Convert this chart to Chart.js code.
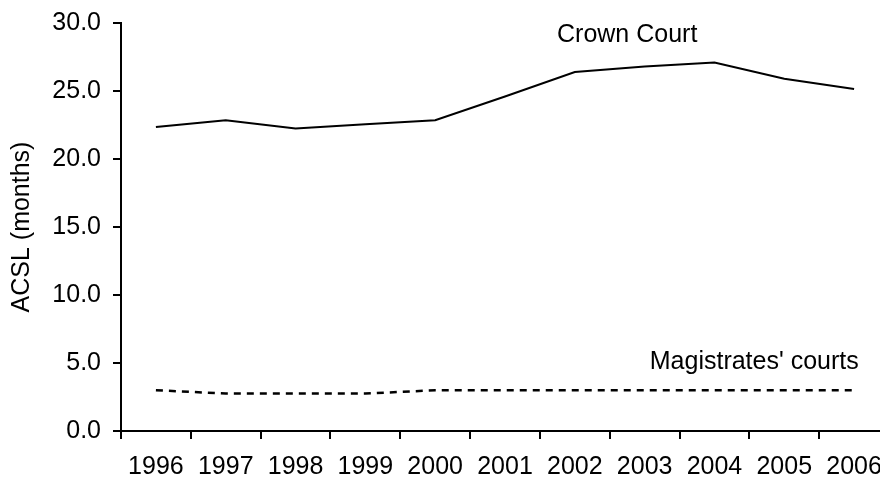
<!DOCTYPE html>
<html>
<head>
<meta charset="utf-8">
<script src="https://cdn.jsdelivr.net/npm/chart.js@4.4.1/dist/chart.umd.min.js"></script>
<style>
  html, body { margin: 0; padding: 0; background: #fff; overflow: hidden; }
  canvas { display: block; }
</style>
</head>
<body>
<canvas id="acslChart" width="900" height="479"></canvas>
<script>
// data
const years = ['1996', '1997', '1998', '1999', '2000', '2001', '2002', '2003', '2004', '2005', '2006'];
const crownCourt = [22.35, 22.85, 22.25, 22.55, 22.85, 24.6, 26.4, 26.8, 27.1, 25.9, 25.15];
const magistratesCourts = [3.0, 2.75, 2.75, 2.75, 3.0, 3.0, 3.0, 3.0, 3.0, 3.0, 3.0];
const seriesNames = ['Crown Court', "Magistrates' courts"];
const yMin = 0;
const yMax = 30;
const yStep = 5;
const yTitle = 'ACSL (months)';

const FONT = 'Liberation Sans, Arial, sans-serif';
const FONT_SIZE = 25;

// series names are written next to the lines instead of a legend
const lineLabels = {
  id: 'lineLabels',
  afterDatasetsDraw(chart) {
    const { ctx, scales: { x, y } } = chart;
    const spots = [
      { text: seriesNames[0], idx: 6.75, val: 28.6 },
      { text: seriesNames[1], idx: 8.57, val: 4.56 },
    ];
    ctx.save();
    ctx.font = FONT_SIZE + 'px ' + FONT;
    ctx.fillStyle = '#000';
    ctx.textAlign = 'center';
    ctx.textBaseline = 'alphabetic';
    spots.forEach(s => {
      ctx.fillText(s.text, x.getPixelForValue(s.idx), y.getPixelForValue(s.val));
    });
    ctx.restore();
  }
};

const ctx = document.getElementById('acslChart').getContext('2d');
const chart = new Chart(ctx, {
  type: 'line',
  data: {
    labels: years,
    datasets: [{
      label: seriesNames[0],
      data: crownCourt,
      borderColor: '#000',
      borderWidth: 2,
      pointRadius: 0,
      tension: 0,
    }, {
      label: seriesNames[1],
      data: magistratesCourts,
      borderColor: '#000',
      borderWidth: 2.5,
      borderDash: [7, 6],
      pointRadius: 0,
      tension: 0,
    }],
  },
  options: {
    responsive: false,
    animation: false,
    devicePixelRatio: 1,
    layout: { padding: { top: 23, right: 11, bottom: 0, left: 0 } },
    plugins: {
      legend: { display: false },
      tooltip: { enabled: false },
    },
    scales: {
      x: {
        offset: true,
        grid: {
          offset: true,
          drawOnChartArea: false,
          drawTicks: true,
          tickLength: 8,
          color: '#000',
          lineWidth: 2,
        },
        border: { display: true, color: '#000', width: 2 },
        ticks: {
          color: '#000',
          padding: 13,
          maxRotation: 0,
          autoSkip: false,
          font: { family: FONT, size: FONT_SIZE },
        },
        afterFit(scale) {
          scale.height = 48;
          scale.paddingLeft = 0;
          scale.paddingRight = 0;
        },
      },
      y: {
        min: yMin,
        max: yMax,
        grid: {
          drawOnChartArea: false,
          drawTicks: true,
          tickLength: 8,
          color: '#000',
          lineWidth: 2,
        },
        border: { display: true, color: '#000', width: 2 },
        ticks: {
          stepSize: yStep,
          color: '#000',
          padding: 12,
          font: { family: FONT, size: FONT_SIZE },
          callback: v => v.toFixed(1),
        },
        title: {
          display: true,
          text: yTitle,
          color: '#000',
          padding: { top: 7, bottom: 0 },
          font: { family: FONT, size: FONT_SIZE },
        },
        afterFit(scale) {
          scale.width = 121;
          scale.paddingTop = 0;
          scale.paddingBottom = 0;
        },
      },
    },
  },
  plugins: [lineLabels],
});
</script>
</body>
</html>
